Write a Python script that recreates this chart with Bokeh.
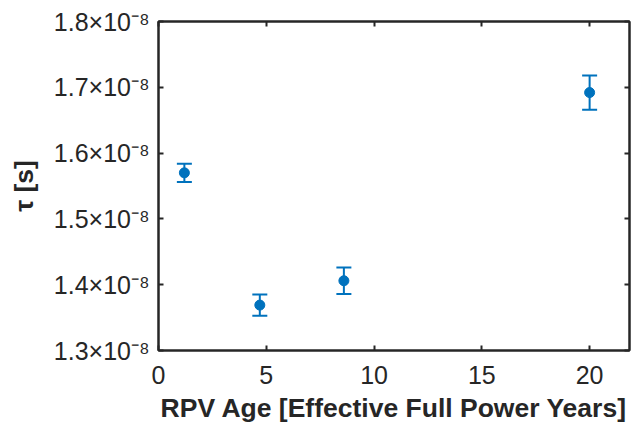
from bokeh.plotting import figure
from bokeh.models import (Range1d, FixedTicker, CustomJSTickFormatter, LinearAxis,
                          Whisker, ColumnDataSource, TeeHead)
from bokeh.embed import file_html
from bokeh.resources import INLINE

# ---- data ----
age = [1.2, 4.7, 8.6, 20.0]                       # RPV age [EFPY]
tau = [1.570e-8, 1.369e-8, 1.406e-8, 1.692e-8]     # tau [s]
tau_err = [0.014e-8, 0.016e-8, 0.020e-8, 0.026e-8]  # error bar half-length
x_ticks = [0, 5, 10, 15, 20]
y_ticks = [1.3e-8, 1.4e-8, 1.5e-8, 1.6e-8, 1.7e-8, 1.8e-8]

BLUE = "#0072BD"
DARK = "#262626"
FONT = "Liberation Sans"

src = ColumnDataSource(dict(
    age=age, tau=tau,
    lower=[t - e for t, e in zip(tau, tau_err)],
    upper=[t + e for t, e in zip(tau, tau_err)],
))

p = figure(width=633, height=425, output_backend="svg", toolbar_location=None,
           x_range=Range1d(0, 21.85), y_range=Range1d(1.3e-8, 1.8e-8),
           min_border_left=158, min_border_right=4, min_border_top=21,
           min_border_bottom=74,
           background_fill_color="white", border_fill_color="white",
           outline_line_color=DARK, outline_line_width=2)
p.xgrid.visible = False
p.ygrid.visible = False


def style_axis(ax):
    ax.axis_line_color = DARK
    ax.axis_line_width = 2
    ax.major_tick_line_color = DARK
    ax.major_tick_line_width = 2
    ax.major_tick_in = 5
    ax.major_tick_out = 0
    ax.minor_tick_line_color = None
    ax.major_label_text_font = FONT
    ax.major_label_text_font_size = "25px"
    ax.major_label_text_color = DARK
    ax.axis_label_text_font = FONT
    ax.axis_label_text_font_size = "26.5px"
    ax.axis_label_text_font_style = "bold"
    ax.axis_label_text_color = DARK


xa = p.xaxis[0]
style_axis(xa)
xa.ticker = FixedTicker(ticks=x_ticks)
xa.major_label_standoff = 15
xa.axis_label = "RPV Age [Effective Full Power Years]"
xa.axis_label_standoff = 6

ya = p.yaxis[0]
style_axis(ya)
ya.ticker = FixedTicker(ticks=y_ticks)
ya.formatter = CustomJSTickFormatter(code="return (tick*1e8).toFixed(1) + '\u00d710\u207b\u2078';")
ya.major_label_standoff = 9
ya.axis_label = "\u03c4 [s]"
ya.axis_label_standoff = 12

top = LinearAxis(ticker=FixedTicker(ticks=x_ticks))
style_axis(top)
top.major_label_text_font_size = "0px"
top.major_label_standoff = 0
top.major_label_overrides = {t: "" for t in x_ticks}
p.add_layout(top, "above")

right = LinearAxis(ticker=FixedTicker(ticks=y_ticks))
style_axis(right)
right.major_label_text_font_size = "0px"
right.major_label_standoff = 0
right.formatter = CustomJSTickFormatter(code="return '';")
p.add_layout(right, "right")

whisk = Whisker(base="age", upper="upper", lower="lower", source=src,
                line_color=BLUE, line_width=2,
                upper_head=TeeHead(size=15, line_color=BLUE, line_width=2),
                lower_head=TeeHead(size=15, line_color=BLUE, line_width=2))
p.add_layout(whisk)
p.scatter("age", "tau", source=src, size=10, color=BLUE)

open("out.html", "w").write(file_html(p, INLINE))
